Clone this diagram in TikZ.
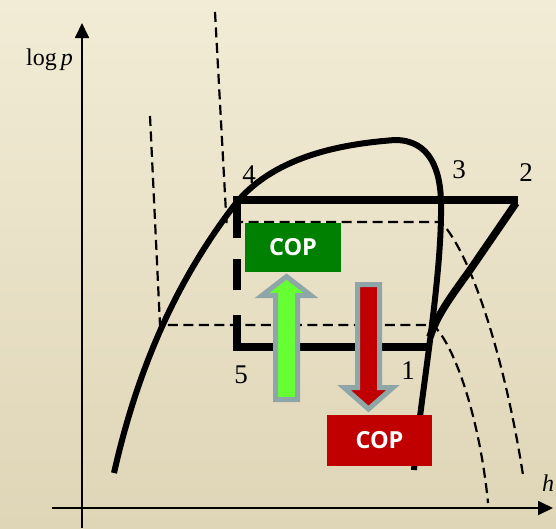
\documentclass[tikz,border=0pt]{standalone}
\usepackage{fontspec}
\setmainfont{Liberation Serif}
\newfontfamily\copfont{Open Sans}
\usetikzlibrary{arrows.meta}
\definecolor{bgtop}{HTML}{F2ECD6}
\definecolor{bgbot}{HTML}{DFD5B7}
\definecolor{copgreen}{HTML}{008000}
\definecolor{copred}{HTML}{C00000}
\definecolor{arrgreen}{HTML}{66FF33}
\definecolor{arrgray}{HTML}{8FA6A9}
\begin{document}
\begin{tikzpicture}[x=1pt,y=-1pt,
  thindash/.style={line width=2.2pt, dash pattern=on 10pt off 5.5pt},
  dome/.style={line width=6pt},
  cyc/.style={line width=7.5pt},
  axis/.style={line width=1.8pt, -{Triangle[length=15pt,width=14pt]}},
  lbl/.style={font=\fontsize{27}{27}\selectfont, anchor=base, inner sep=0pt},
  axlbl/.style={font=\fontsize{24}{24}\selectfont, anchor=base, inner sep=0pt},
  copbox/.style={draw=none, text=white, inner sep=0pt,
     font=\copfont\bfseries\fontsize{23.5}{23.5}\selectfont},
  arrbox/.style={draw=arrgray, line width=5pt, line join=miter}]
\shade[top color=bgtop, bottom color=bgbot] (0,0) rectangle (556,528);
\useasboundingbox (0,0) rectangle (556,528);

% axes
\coordinate (yb) at (82,528);
\coordinate (yt) at (82,23);
\coordinate (xl) at (52,508);
\coordinate (xr) at (553,508);
\draw[axis] (yb) -- (yt);
\draw[axis] (xl) -- (xr);
\node[axlbl] (logp) at (49.5,65) {log\,\textit{p}};
\node[axlbl] (hlab) at (548,491) {\textit{h}};

% isotherms
\draw[thindash] (215,12) -- (226.5,222) -- (441,222)
  .. controls (472,255) and (505,360) .. (523,475);
\draw[thindash] (150,116) -- (160,325) -- (433,325)
  .. controls (455,345) and (480,420) .. (488,503);

% saturation dome
\draw[dome] (114,473) .. controls (135,380) and (170,290) .. (233,207)
  .. controls (271,157) and (340,144) .. (395,140)
  .. controls (430,140) and (441,170) .. (441,205)
  .. controls (442,280) and (420,400) .. (414,470);

% cycle
\coordinate (p4) at (237,200);
\coordinate (p2) at (518,200);
\coordinate (p5) at (237,347);
\coordinate (p1) at (429,347);
\draw[cyc] (233.25,200) -- (p2);
\draw[cyc] (516,203) -- (470,270) .. controls (450,298) and (437,315) .. (430,337);
\draw[cyc] (233.25,347) -- (p1);
\draw[cyc, dash pattern=on 41.5pt off 21pt on 31pt off 25pt on 40pt off 10pt] (237,196.5) -- (237,350.5);

% COP boxes
\node[copbox, fill=copgreen, minimum width=96pt, minimum height=49pt] (copg) at (293,247.5) {COP};
\node[copbox, fill=copred, minimum width=105pt, minimum height=51pt] (copr) at (379.5,440.5) {COP};

% block arrows
\draw[arrbox, fill=arrgreen] (286.5,276.5) -- (311,295.5) -- (297.5,295.5) -- (297.5,399.5) -- (275.5,399.5) -- (275.5,295.5) -- (262,295.5) -- cycle;
\draw[arrbox, fill=copred] (357.5,284.5) -- (379.5,284.5) -- (379.5,387.5) -- (393,387.5) -- (368.5,409) -- (344,387.5) -- (357.5,387.5) -- cycle;

% point labels
\node[lbl] (l4) at (249,183) {4};
\node[lbl] (l3) at (459,178) {3};
\node[lbl] (l2) at (526,181) {2};
\node[lbl] (l5) at (241,383) {5};
\node[lbl] (l1) at (408,379) {1};
\end{tikzpicture}
\end{document}
